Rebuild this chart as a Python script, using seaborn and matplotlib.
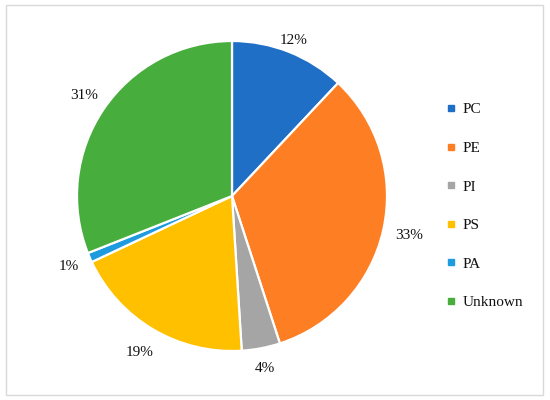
import numpy as np
import matplotlib
matplotlib.use("Agg")
import matplotlib.pyplot as plt
from matplotlib.patches import Rectangle
from matplotlib.lines import Line2D
import seaborn as sns

categories = ["PC", "PE", "PI", "PS", "PA", "Unknown"]
values = [12, 33, 4, 19, 1, 31]
pct_labels = ["12%", "33%", "4%", "19%", "1%", "31%"]

colors = ["#1F6FC6", "#FD7E23", "#A5A5A5", "#FFC000", "#1E9BDF", "#47AD3C"]
label_dist = [1.08, 1.17, 1.135, 1.175, 1.15, 1.155]

sns.set_theme(style="white")
plt.rcParams["font.family"] = ["Liberation Serif", "DejaVu Serif"]

W, H = 550, 400
fig = plt.figure(figsize=(5.5, 4.0), dpi=100)
fig.patch.set_facecolor("white")

cx, cy, R = 232, 196, 155
ax = fig.add_axes([(cx - R) / W, (H - cy - R) / H, 2 * R / W, 2 * R / H])
wedges, _ = ax.pie(values, colors=colors, startangle=90, counterclock=False,
                   radius=1.0, wedgeprops=dict(edgecolor="white", linewidth=1.6),
                   frame=False)
ax.set_xlim(-1, 1)
ax.set_ylim(-1, 1)
ax.set_aspect("equal")
ax.axis("off")

for w, lab, d in zip(wedges, pct_labels, label_dist):
    ang = np.deg2rad((w.theta1 + w.theta2) / 2)
    ax.text(d * np.cos(ang), d * np.sin(ang), lab, ha="center", va="center",
            fontsize=11, color="#111111", clip_on=False)

handles = [Line2D([0], [0], marker="s", linestyle="none", markersize=5,
                  markerfacecolor=c, markeredgecolor=c) for c in colors]
fig.legend(handles, categories, loc="center left",
           bbox_to_anchor=(445 / W, 1 - 206 / H), frameon=False,
           fontsize=11, labelspacing=1.63, handlelength=0.8,
           handletextpad=0.35, borderpad=0, borderaxespad=0,
           labelcolor="#111111")

fig.patches.append(Rectangle((6 / W, 5 / H), 537 / W, 390 / H,
                             transform=fig.transFigure, fill=False,
                             edgecolor="#D9D9D9", linewidth=1.0))

fig.savefig("out.png", dpi=100)
